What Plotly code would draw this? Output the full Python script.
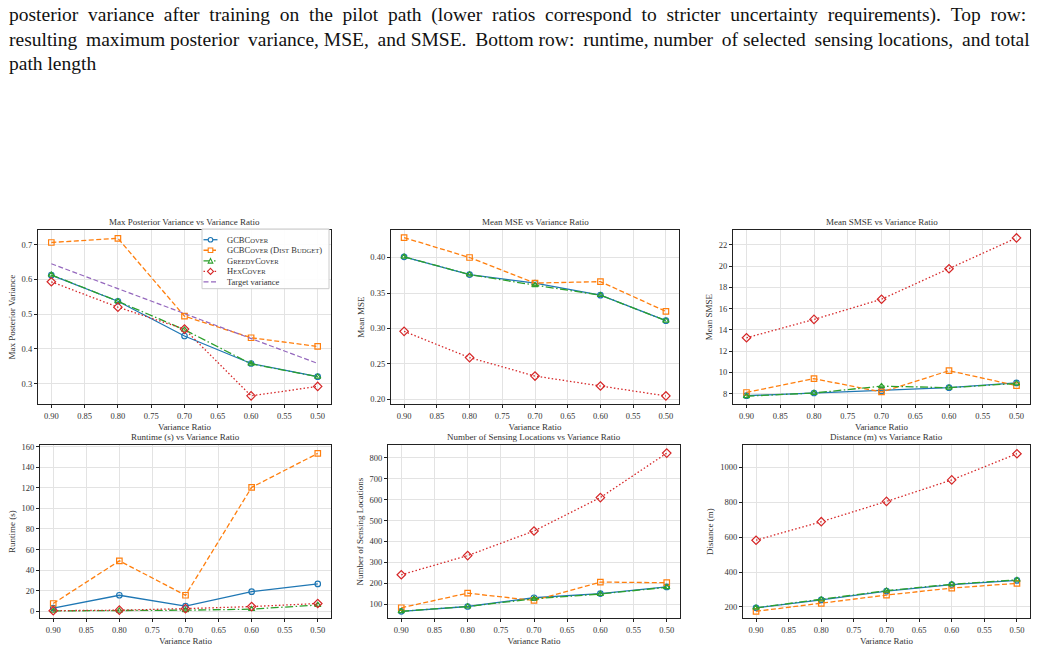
import plotly.graph_objects as go

W, H = 1041, 661

# ---------------- data ----------------
ratios = [0.90, 0.80, 0.70, 0.60, 0.50]
x_ticks = [0.90, 0.85, 0.80, 0.75, 0.70, 0.65, 0.60, 0.55, 0.50]
x_tick_labels = ["0.90", "0.85", "0.80", "0.75", "0.70", "0.65", "0.60", "0.55", "0.50"]

SC = "<span style='font-size:6.6px'>{}</span>"
method_names = [
    "GCBC" + SC.format("OVER"),
    "GCBC" + SC.format("OVER") + " (D" + SC.format("IST") + " B" + SC.format("UDGET") + ")",
    "G" + SC.format("REEDY") + "C" + SC.format("OVER"),
    "H" + SC.format("EX") + "C" + SC.format("OVER"),
]
target_name = "Target variance"

max_var_gcb = [0.612, 0.537, 0.437, 0.358, 0.320]
max_var_dist = [0.706, 0.718, 0.494, 0.432, 0.407]
max_var_greedy = [0.613, 0.537, 0.455, 0.357, 0.320]
max_var_hex = [0.593, 0.520, 0.457, 0.265, 0.292]
target_var = [0.645, 0.573, 0.502, 0.430, 0.358]

mse_gcb = [0.401, 0.376, 0.364, 0.347, 0.311]
mse_dist = [0.428, 0.400, 0.364, 0.366, 0.324]
mse_greedy = [0.401, 0.376, 0.361, 0.347, 0.311]
mse_hex = [0.296, 0.259, 0.233, 0.219, 0.205]

smse_gcb = [7.80, 8.05, 8.25, 8.55, 9.00]
smse_dist = [8.10, 9.40, 8.15, 10.15, 8.75]
smse_greedy = [7.75, 8.05, 8.70, 8.55, 8.95]
smse_hex = [13.25, 14.98, 16.88, 19.75, 22.65]

runtime_gcb = [3.0, 15.5, 5.0, 19.0, 26.5]
runtime_dist = [7.5, 49.0, 15.5, 120.5, 153.5]
runtime_greedy = [0.3, 0.5, 1.0, 2.0, 6.0]
runtime_hex = [0.5, 1.0, 2.5, 4.5, 7.5]

nloc_gcb = [65, 88, 130, 150, 182]
nloc_dist = [82, 152, 117, 205, 202]
nloc_greedy = [65, 88, 125, 148, 180]
nloc_hex = [240, 332, 450, 610, 823]

dist_gcb = [195, 240, 290, 328, 352]
dist_dist = [175, 220, 268, 308, 335]
dist_greedy = [195, 242, 293, 330, 355]
dist_hex = [582, 688, 804, 927, 1077]

panel_titles = [
    "Max Posterior Variance vs Variance Ratio",
    "Mean MSE vs Variance Ratio",
    "Mean SMSE vs Variance Ratio",
    "Runtime (s) vs Variance Ratio",
    "Number of Sensing Locations vs Variance Ratio",
    "Distance (m) vs Variance Ratio",
]
y_titles = ["Max Posterior Variance", "Mean MSE", "Mean SMSE", "Runtime (s)",
            "Number of Sensing Locations", "Distance (m)"]
x_title = "Variance Ratio"

caption_lines = [
    "posterior variance after training on the pilot path (lower ratios correspond to stricter uncertainty requirements). Top row:",
    "resulting maximum posterior variance, MSE, and SMSE. Bottom row: runtime, number of selected sensing locations, and total",
    "path length",
]

panels_data = [
    [max_var_gcb, max_var_dist, max_var_greedy, max_var_hex],
    [mse_gcb, mse_dist, mse_greedy, mse_hex],
    [smse_gcb, smse_dist, smse_greedy, smse_hex],
    [runtime_gcb, runtime_dist, runtime_greedy, runtime_hex],
    [nloc_gcb, nloc_dist, nloc_greedy, nloc_hex],
    [dist_gcb, dist_dist, dist_greedy, dist_hex],
]

# ---------------- styles ----------------
colors = ["#1f77b4", "#ff7f0e", "#2ca02c", "#d62728"]
target_color = "#9467bd"
dashes = ["solid", "5px,2.5px", "8px,2.5px,1.5px,2.5px", "1.5px,2.2px"]
target_dash = "5px,2.5px"
symbols = ["circle-open", "square-open", "triangle-up-open", "diamond-open"]
msizes = [5.5, 5.5, 5.5, 6.5]
FONT = "Liberation Serif, Times New Roman, serif"


def justify(text, every, extra):
    """Widen some inter-word gaps with an extra narrow space to mimic justified text."""
    words = text.split(" ")
    out = words[0]
    for idx, w in enumerate(words[1:]):
        sep = " " + extra if idx % every == 0 else " "
        out += sep + w
    return out


# panel boxes in pixels: (left, right, top, bottom)
boxes = [
    (38, 331, 228, 403), (391, 679, 228, 403), (733, 1030, 228, 403),
    (40, 331, 444, 618), (388, 680, 444, 618), (743, 1030, 444, 618),
]
y_ranges = [[0.241, 0.742], [0.1934, 0.4388], [7.0, 23.4],
            [-6.8, 161.7], [32, 862], [135.6, 1127]]
y_dticks = [0.1, 0.05, 2, 20, 100, 200]
y_formats = [".1f", ".2f", "d", "d", "d", "d"]

fig = go.Figure()
layout = dict(
    width=W, height=H,
    margin=dict(l=0, r=0, t=0, b=0),
    paper_bgcolor="white", plot_bgcolor="white",
    font=dict(family=FONT, size=9, color="#222"),
    showlegend=False,
)
annotations = []
shapes = []

for i, (l, r, t, b) in enumerate(boxes):
    n = i + 1
    xa = "xaxis" if n == 1 else f"xaxis{n}"
    ya = "yaxis" if n == 1 else f"yaxis{n}"
    xr = "x" if n == 1 else f"x{n}"
    yr = "y" if n == 1 else f"y{n}"
    axis_common = dict(
        showline=True, mirror=True, linecolor="#222", linewidth=1.3,
        showgrid=True, gridcolor="#e3e3e3", gridwidth=1,
        ticks="outside", ticklen=3, tickcolor="#222", zeroline=False,
        tickfont=dict(family=FONT, size=8.5, color="#333"),
    )
    layout[xa] = dict(
        axis_common, domain=[l / W, r / W], anchor=yr,
        range=[0.92, 0.48], tickvals=x_ticks, ticktext=x_tick_labels,
        title=dict(text=x_title, font=dict(family=FONT, size=9, color="#333"), standoff=4),
    )
    layout[ya] = dict(
        axis_common, domain=[1 - b / H, 1 - t / H], anchor=xr,
        range=y_ranges[i], dtick=y_dticks[i], tickformat=y_formats[i],
        title=dict(text=y_titles[i], font=dict(family=FONT, size=9, color="#333"), standoff=4),
    )
    annotations.append(dict(
        text=panel_titles[i], x=(l + r) / 2 / W, y=1 - (t - 8) / H,
        xref="paper", yref="paper", xanchor="center", yanchor="middle",
        showarrow=False, font=dict(family=FONT, size=9, color="#333"),
    ))
    for k in range(4):
        fig.add_trace(go.Scatter(
            x=ratios, y=panels_data[i][k], xaxis=xr, yaxis=yr,
            mode="lines+markers", name=method_names[k],
            line=dict(color=colors[k], width=1.3, dash=dashes[k]),
            marker=dict(symbol=symbols[k], size=msizes[k], color=colors[k],
                        line=dict(width=1.2, color=colors[k])),
        ))
    if i == 0:
        fig.add_trace(go.Scatter(
            x=ratios, y=target_var, xaxis=xr, yaxis=yr, mode="lines",
            name=target_name,
            line=dict(color=target_color, width=1.2, dash=target_dash),
        ))

# ---------------- legend (drawn in panel 1, upper right) ----------------
LX0, LX1, LY0, LY1 = 202, 329, 227, 287
shapes.append(dict(type="rect", xref="paper", yref="paper",
                   x0=LX0 / W, x1=LX1 / W, y0=1 - LY1 / H, y1=1 - LY0 / H,
                   line=dict(color="#cccccc", width=1), fillcolor="rgba(255,255,255,0.9)"))
leg_names = method_names + [target_name]
leg_colors = colors + [target_color]
leg_dash = dashes + [target_dash]
for j in range(5):
    yc = LY0 + 10.8 + j * 10.6
    shapes.append(dict(type="line", xref="paper", yref="paper",
                       x0=(LX0 + 1.5) / W, x1=(LX0 + 15.5) / W, y0=1 - yc / H, y1=1 - yc / H,
                       line=dict(color=leg_colors[j], width=1.3, dash=leg_dash[j])))
    cx, s = LX0 + 8.5, 2.3
    if j == 0:
        shapes.append(dict(type="circle", xref="paper", yref="paper",
                           x0=(cx - s) / W, x1=(cx + s) / W, y0=1 - (yc + s) / H, y1=1 - (yc - s) / H,
                           line=dict(color=leg_colors[j], width=1.1), fillcolor="white"))
    elif j == 1:
        shapes.append(dict(type="rect", xref="paper", yref="paper",
                           x0=(cx - s) / W, x1=(cx + s) / W, y0=1 - (yc + s) / H, y1=1 - (yc - s) / H,
                           line=dict(color=leg_colors[j], width=1.1), fillcolor="white"))
    elif j == 2:
        p = f"M {(cx - s) / W} {1 - (yc + s) / H} L {(cx + s) / W} {1 - (yc + s) / H} L {cx / W} {1 - (yc - s) / H} Z"
        shapes.append(dict(type="path", xref="paper", yref="paper", path=p,
                           line=dict(color=leg_colors[j], width=1.1), fillcolor="white"))
    elif j == 3:
        d = 3.0
        p = (f"M {cx / W} {1 - (yc - d) / H} L {(cx + d) / W} {1 - yc / H} "
             f"L {cx / W} {1 - (yc + d) / H} L {(cx - d) / W} {1 - yc / H} Z")
        shapes.append(dict(type="path", xref="paper", yref="paper", path=p,
                           line=dict(color=leg_colors[j], width=1.1), fillcolor="white"))
    annotations.append(dict(
        text=leg_names[j], x=(LX0 + 23) / W, y=1 - yc / H, xref="paper", yref="paper",
        xanchor="left", yanchor="middle", showarrow=False,
        font=dict(family=FONT, size=8.5, color="#333"),
    ))

# ---------------- caption ----------------
caption_y = [12, 37, 61]
caption_every = [1, 2, 1000]
caption_extra = ["\u2005", "\u2009", ""]
for txt, yy, ev, ex in zip(caption_lines, caption_y, caption_every, caption_extra):
    annotations.append(dict(
        text=justify(txt, ev, ex), x=7 / W, y=1 - yy / H, xref="paper", yref="paper",
        xanchor="left", yanchor="middle", showarrow=False,
        font=dict(family=FONT, size=19.5, color="#111"),
    ))

layout["annotations"] = annotations
layout["shapes"] = shapes
fig.update_layout(**layout)
fig.write_html("out.html")
